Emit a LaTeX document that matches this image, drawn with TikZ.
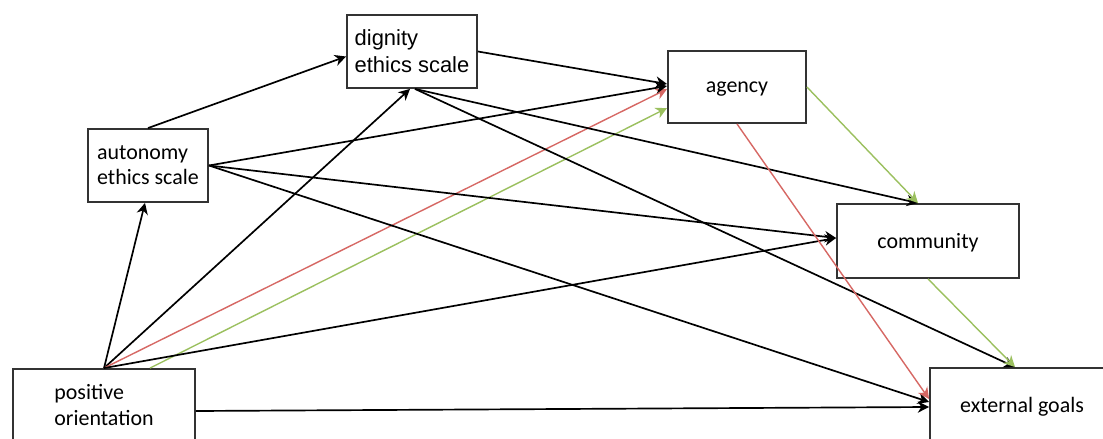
\documentclass[tikz,border=0pt]{standalone}
\usepackage{fontspec}
\setmainfont{Carlito}
\newfontfamily\arialfont{Liberation Sans}
\usetikzlibrary{arrows.meta,calc}
\definecolor{pathred}{RGB}{214,104,100}
\definecolor{pathgreen}{RGB}{155,192,95}

\begin{document}
\begin{tikzpicture}[x=0.025cm, y=-0.025cm,
        var/.style={draw=black!80, line width=1.3pt, inner sep=0pt, align=left,
            font=\fontsize{15.6}{17.8}\selectfont},
        link/.style={line width=1.2pt, -{Stealth[length=8pt,width=8pt,inset=2.5pt]}}]
    \useasboundingbox (0,0) rectangle (1103,439);
    \clip (0,0) rectangle (1103,439);
		\node[var, minimum width=3.25cm, minimum height=1.825cm,
            font=\arialfont\fontsize{15.6}{19.2}\selectfont] (dignity) at (412,51.5) {dignity\\ethics scale};
		\node[var, minimum width=3cm, minimum height=1.825cm] (autonomy) at (148,165.5) {autonomy\\ethics scale};
		\node[var, minimum width=3.45cm, minimum height=1.8cm, text depth=0pt] (agency) at (737,87) {agency};
		\node[var, minimum width=4.55cm, minimum height=1.85cm, text depth=0pt] (community) at (928,241) {community};
		\node[var, minimum width=4.55cm, minimum height=1.8cm] (positive) at (104,405) {positive\\orientation};
		\node[var, minimum width=4.6cm, minimum height=1.825cm, text depth=0pt] (goals) at (1022,404.5) {external goals};

        \draw[link] (positive.north) -- ($(autonomy.south)+(-3,0)$);
        \draw[link] (positive.north) -- ($(dignity.south)+(-2,0)$);
        \draw[link, pathred, line width=1pt] (positive.north) -- ($(agency.west)+(0,2)$);
        \draw[link, pathgreen, line width=1pt] ($(positive.north)+(46,0)$) -- ($(agency.west)+(0,21)$);
        \draw[link] (positive.north) -- ($(community.west)+(0,-3)$);
        \draw[link] ($(positive.east)+(0,6)$) -- ($(goals.west)+(0,2.5)$);

        \draw[link] (autonomy.north) -- ($(dignity.west)+(0,5)$);
        \draw[link] (autonomy.east) -- ($(agency.west)+(0,-1)$);
        \draw[link] (autonomy.east) -- ($(community.west)+(0,-3)$);
        \draw[link] (autonomy.east) -- ($(goals.west)+(0,-2.5)$);

        \draw[link] (dignity.east) -- ($(agency.west)+(0,-3)$);
        \draw[link] ($(dignity.south)+(3,0)$) -- ($(community.north)+(-10,0)$);
        \draw[link] ($(dignity.south)+(3,0)$) -- ($(goals.north)+(-7,0)$);

        \draw[link, pathgreen, line width=1pt] (agency.east) -- ($(community.north)+(-10,0)$);
        \draw[link, pathred, line width=1pt] (agency.south) -- ($(goals.west)+(0,-5.5)$);
        \draw[link, pathgreen, line width=1pt] (community.south) -- ($(goals.north)+(-7,0)$);
	\end{tikzpicture}
\end{document}
